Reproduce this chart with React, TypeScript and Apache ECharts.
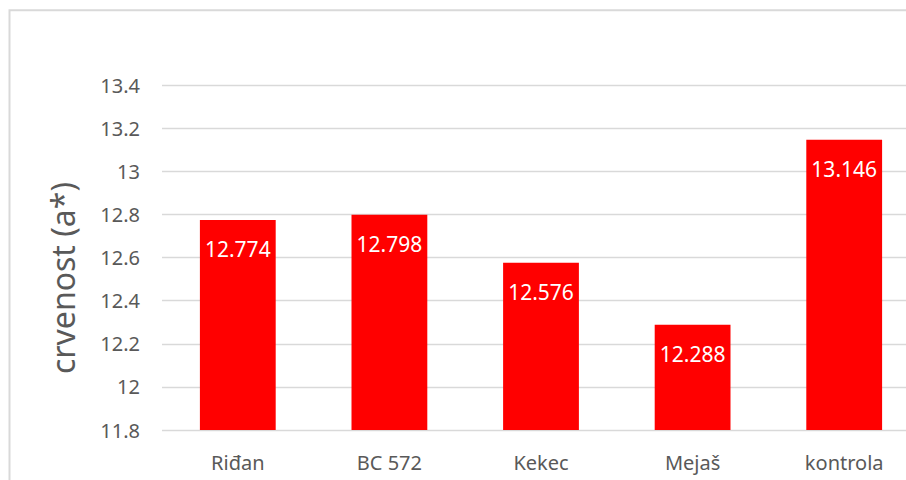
import React, { useEffect, useRef } from "react";
import * as echarts from "echarts";

const categories = ["Riđan", "BC 572", "Kekec", "Mejaš", "kontrola"];
const values = [12.774, 12.798, 12.576, 12.288, 13.146];
const yMin = 11.8;
const yMax = 13.4;
const yInterval = 0.2;
const yTitle = "crvenost (a*)";

const FONT = "'Noto Sans', 'Open Sans', sans-serif";

export default function App() {
  const ref = useRef<HTMLDivElement>(null);
  useEffect(() => {
    if (!ref.current) return;
    const chart = echarts.init(ref.current, undefined, { renderer: "svg" });
    chart.setOption({
      animation: false,
      backgroundColor: "#ffffff",
      grid: { left: 162, right: 0, top: 85, bottom: 50 },
      xAxis: {
        type: "category",
        data: categories,
        axisLine: { show: false },
        axisTick: { show: false },
        axisLabel: { color: "#595959", fontFamily: FONT, fontSize: 20, margin: 22 },
      },
      yAxis: {
        type: "value",
        min: yMin,
        max: yMax,
        interval: yInterval,
        axisLine: { show: false },
        axisTick: { show: false },
        splitLine: { lineStyle: { color: "#d9d9d9", width: 1.3 } },
        axisLabel: {
          color: "#595959",
          fontFamily: FONT,
          fontSize: 20,
          margin: 22,
          formatter: (v: number) => String(+v.toFixed(1)),
        },
      },
      series: [
        {
          type: "bar",
          data: values,
          barWidth: "50%",
          itemStyle: { color: "#ff0000" },
          label: {
            show: true,
            position: "insideTop",
            distance: 19,
            color: "#ffffff",
            fontFamily: FONT,
            fontSize: 21,
            formatter: (p: any) => String(p.value),
          },
        },
      ],
      graphic: [
        {
          type: "rect",
          shape: { x: 9.5, y: 10.3, width: 1000, height: 1000 },
          style: { fill: "none", stroke: "#d9d9d9", lineWidth: 2 },
          silent: true,
        },
        {
          type: "text",
          x: 62,
          y: 278,
          rotation: Math.PI / 2,
          style: {
            text: yTitle,
            fill: "#595959",
            font: `32px ${FONT}`,
            align: "center",
            verticalAlign: "middle",
          },
        },
      ],
    });
    return () => chart.dispose();
  }, []);
  return (
    <div
      ref={ref}
      style={{ position: "fixed", left: 0, top: 0, width: 920, height: 480, overflow: "hidden" }}
    />
  );
}
